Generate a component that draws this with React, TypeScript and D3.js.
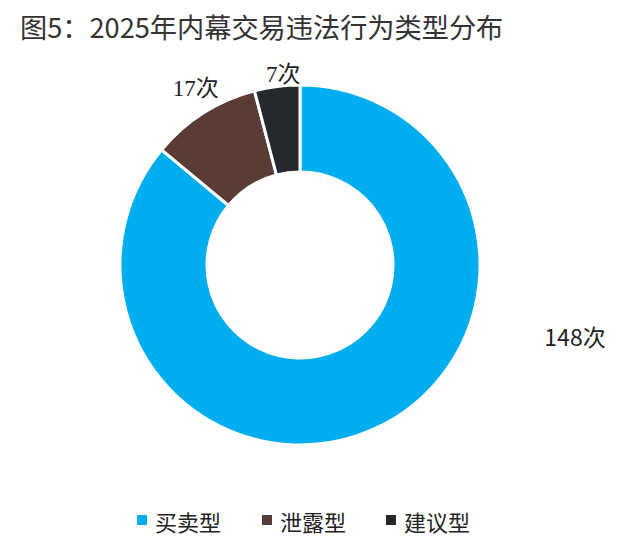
import React, { useEffect, useRef } from "react";
import * as d3 from "d3";

const categories = ["买卖型", "泄露型", "建议型"];
const counts = [148, 17, 7];
const colors = ["#00ADEE", "#5A3B35", "#25282C"];
const title = "图5：2025年内幕交易违法行为类型分布";

export default function App() {
  const ref = useRef<SVGSVGElement>(null);

  useEffect(() => {
    const cx = 300, cy = 265;
    const outerR = 180, innerR = 93;

    const svg = d3.select(ref.current);
    svg.selectAll("*").remove();

    svg.append("text")
      .attr("x", 20)
      .attr("y", 38)
      .attr("font-family", "Noto Sans CJK SC")
      .attr("font-size", 27.2)
      .attr("fill", "#333")
      .text(title);

    const data = categories.map((c, i) => ({ name: c, value: counts[i], color: colors[i] }));
    const pie = d3.pie<any>().value(d => d.value).sort(null);
    const arcs = pie(data);
    const arc = d3.arc<any>().innerRadius(innerR).outerRadius(outerR);

    const g = svg.append("g").attr("transform", `translate(${cx}, ${cy})`);
    g.selectAll("path")
      .data(arcs)
      .join("path")
      .attr("d", arc)
      .attr("fill", d => d.data.color)
      .attr("stroke", "#fff")
      .attr("stroke-width", 3);

    // labels: small ones just outside the ring (nudged by hand), big one off to the right
    const labelArc = d3.arc<any>().innerRadius(outerR + 22).outerRadius(outerR + 22);
    const nudge = [[0, 0], [4, -6], [9, 10]];
    g.selectAll("text.lbl")
      .data(arcs)
      .join("text")
      .attr("class", "lbl")
      .attr("transform", (d, i) => {
        if (i === 0) return `translate(${275}, ${71})`;
        const [x, y] = labelArc.centroid(d);
        return `translate(${x + nudge[i][0]}, ${y + nudge[i][1]})`;
      })
      .attr("text-anchor", "middle")
      .attr("dominant-baseline", "central")
      .attr("font-family", (d, i) => i === 0 ? "Noto Sans CJK SC" : "Liberation Serif, Noto Sans CJK SC")
      .attr("font-size", 23)
      .attr("fill", "#222")
      .text(d => d.data.value + "次");

    // legend
    const legendX = [137, 262, 386];
    const lg = svg.append("g");
    data.forEach((d, i) => {
      lg.append("rect")
        .attr("x", legendX[i])
        .attr("y", 515)
        .attr("width", 10)
        .attr("height", 10)
        .attr("fill", d.color);
      lg.append("text")
        .attr("x", legendX[i] + 18)
        .attr("y", 521)
        .attr("dominant-baseline", "central")
        .attr("font-family", "Noto Sans CJK SC")
        .attr("font-size", 22)
        .attr("fill", "#222")
        .text(d.name);
    });
  }, []);

  return <svg ref={ref} width={624} height={550} style={{ position: "absolute", left: 0, top: 0 }} />;
}
